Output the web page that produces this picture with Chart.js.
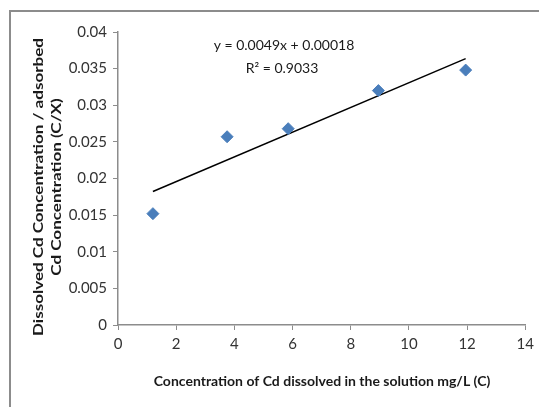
<!DOCTYPE html>
<html>
<head>
<meta charset="utf-8">
<script src="https://cdn.jsdelivr.net/npm/chart.js@4"></script>
<style>
  html, body { margin: 0; padding: 0; background: #fff; }
  #wrap { width: 539px; height: 407px; position: relative; }
</style>
</head>
<body>
<div id="wrap"><canvas id="chart" width="539" height="407"></canvas></div>
<script>
// data
const concC = [1.2, 3.75, 5.85, 8.95, 11.95];
const ratioCX = [0.0152, 0.0257, 0.0268, 0.0320, 0.0348];
const xTicks = [0, 2, 4, 6, 8, 10, 12, 14];
const yTicks = [0, 0.005, 0.01, 0.015, 0.02, 0.025, 0.03, 0.035, 0.04];
const equationLines = ['y = 0.0049x + 0.00018', 'R² = 0.9033'];

const FONT = "Lato, 'Open Sans', sans-serif";

// least squares trend line through the points
function linearFit(xs, ys) {
    const n = xs.length;
    const mx = xs.reduce((a, b) => a + b, 0) / n;
    const my = ys.reduce((a, b) => a + b, 0) / n;
    let sxy = 0, sxx = 0;
    for (let i = 0; i < n; i++) {
        sxy += (xs[i] - mx) * (ys[i] - my);
        sxx += (xs[i] - mx) * (xs[i] - mx);
    }
    const slope = sxy / sxx;
    return { slope: slope, intercept: my - slope * mx };
}
const fit = linearFit(concC, ratioCX);
const xMin = Math.min(...concC), xMax = Math.max(...concC);
const trend = [xMin, xMax].map(x => ({ x: x, y: fit.slope * x + fit.intercept }));

// frame, axis titles and equation text
const decorations = {
    id: 'decorations',
    afterDraw(chart) {
        const ctx = chart.ctx;
        ctx.save();
        ctx.strokeStyle = '#8c8c8c';
        ctx.lineWidth = 2;
        ctx.beginPath();
        ctx.moveTo(10, 407);
        ctx.lineTo(10, 11);
        ctx.lineTo(539, 11);
        ctx.stroke();

        ctx.fillStyle = '#1a1a1a';
        ctx.textAlign = 'center';
        ctx.textBaseline = 'middle';
        ctx.font = 'bold 14px ' + FONT;
        ctx.fillText('Concentration of Cd dissolved in the solution mg/L (C)', 322, 381);

        // the y title is stretched along its length in the original
        const line1 = 'Dissolved Cd Concentration / adsorbed';
        const stretch = 298 / ctx.measureText(line1).width;
        ctx.translate(47, 187);
        ctx.rotate(-Math.PI / 2);
        ctx.scale(stretch, 1);
        ctx.fillText(line1, 0, -9);
        ctx.fillText('Cd Concentration (C/X)', 0, 9);
        ctx.restore();

        ctx.save();
        ctx.fillStyle = '#1a1a1a';
        ctx.font = '14px ' + FONT;
        ctx.textAlign = 'center';
        ctx.textBaseline = 'middle';
        ctx.fillText(equationLines[0], 284, 45);
        ctx.fillText(equationLines[1], 282, 68);
        ctx.restore();
    }
};

new Chart(document.getElementById('chart').getContext('2d'), {
    type: 'scatter',
    data: {
        datasets: [{
            label: 'C/X',
            data: concC.map((x, i) => ({ x: x, y: ratioCX[i] })),
            pointStyle: 'rectRot',
            pointRadius: 6,
            pointHoverRadius: 6,
            backgroundColor: '#4a7ebb',
            borderColor: '#4a7ebb',
            borderWidth: 1
        }, {
            label: 'Linear',
            type: 'line',
            data: trend,
            borderColor: '#000',
            borderWidth: 1.5,
            pointRadius: 0,
            fill: false
        }]
    },
    options: {
        responsive: false,
        animation: false,
        layout: { padding: { top: 32, right: 11, left: 0, bottom: 0 } },
        plugins: {
            legend: { display: false },
            tooltip: { enabled: false }
        },
        scales: {
            x: {
                type: 'linear',
                min: 0,
                max: 14,
                afterBuildTicks: s => { s.ticks = xTicks.map(v => ({ value: v })); },
                afterFit: s => { s.height = 82; },
                grid: { display: true, drawOnChartArea: false, drawTicks: true, tickLength: 5, color: '#8c8c8c' },
                border: { color: '#8c8c8c', width: 1.5 },
                ticks: { color: '#333', font: { family: FONT, size: 15 }, padding: 5 }
            },
            y: {
                type: 'linear',
                min: 0,
                max: 0.04,
                afterBuildTicks: s => { s.ticks = yTicks.map(v => ({ value: v })); },
                afterFit: s => { s.width = 118; },
                grid: { display: true, drawOnChartArea: false, drawTicks: true, tickLength: 5, color: '#8c8c8c' },
                border: { color: '#8c8c8c', width: 1.5 },
                ticks: {
                    color: '#333',
                    font: { family: FONT, size: 15 },
                    padding: 6,
                    callback: v => String(+v.toFixed(3))
                }
            }
        }
    },
    plugins: [decorations]
});
</script>
</body>
</html>
